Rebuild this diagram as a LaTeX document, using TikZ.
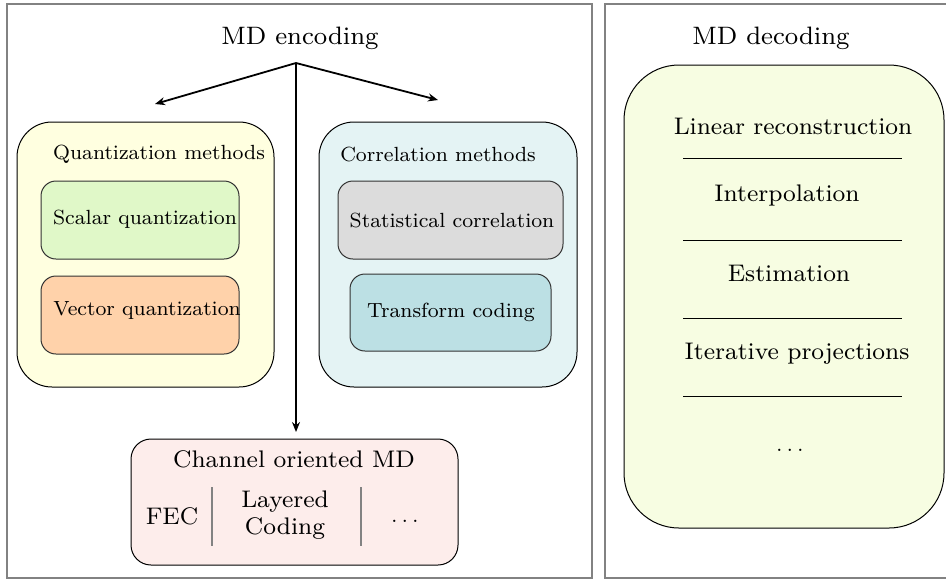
\documentclass[tikz,border=0pt]{standalone}
\usepackage{fontspec}
\setmainfont{lmroman8-regular.otf}
\usetikzlibrary{arrows.meta}
\definecolor{qyel}{RGB}{255,255,224}
\definecolor{qgreen}{RGB}{224,248,200}
\definecolor{qpeach}{RGB}{255,210,170}
\definecolor{ccyan}{RGB}{228,243,244}
\definecolor{cgrey}{RGB}{220,220,220}
\definecolor{cteal}{RGB}{188,224,228}
\definecolor{chpink}{RGB}{253,237,235}
\definecolor{decyel}{RGB}{247,253,226}
\definecolor{framegrey}{RGB}{130,130,130}
\begin{document}
\begin{tikzpicture}[x=0.5pt,y=-0.5pt,
  outerbox/.style={draw=black,line width=0.5pt,rounded corners=17.5pt,inner sep=0pt},
  innerbox/.style={draw=black!80,line width=0.5pt,rounded corners=7.5pt,inner sep=0pt,minimum height=39pt},
  title/.style={font=\fontsize{12.6}{15}\selectfont,inner sep=0pt},
  lab/.style={font=\fontsize{10.25}{12.5}\selectfont,inner sep=0pt},
  big/.style={font=\fontsize{12}{13.5}\selectfont,inner sep=0pt,align=center},
  arr/.style={-{Stealth[length=5pt,width=4pt]},line width=0.9pt}]
\useasboundingbox (0,0) rectangle (946,579);
% panels
\draw[framegrey,line width=0.6pt] (7,4) rectangle (592,578);
\draw[framegrey,line width=0.6pt] (950,4) -- (605,4) -- (605,578) -- (950,578);
% left panel
\node[title] (enc) at (300,38) {MD encoding};
\node[outerbox,fill=qyel,minimum width=128.5pt,minimum height=132.5pt] (qm) at (145.5,254.5) {};
\node[innerbox,fill=qgreen,minimum width=99pt] (sq) at (140,220) {};
\node[innerbox,fill=qpeach,minimum width=99pt] (vq) at (140,315) {};
\node[lab] (qmt) at (159,154) {Quantization methods};
\node[lab] (sqt) at (145,219) {Scalar quantization};
\node[lab] (vqt) at (147,310) {Vector quantization};
\node[outerbox,fill=ccyan,minimum width=129pt,minimum height=132.5pt] (cm) at (448,254.5) {};
\node[innerbox,fill=cgrey,minimum width=112.5pt] (sc) at (450.5,220) {};
\node[innerbox,fill=cteal,minimum width=100.5pt,minimum height=38.5pt] (tc) at (450.5,312.5) {};
\node[lab] (cmt) at (438,154) {Correlation methods};
\node[lab] (sct) at (452,220) {Statistical correlation};
\node[lab] (tct) at (451,312) {Transform coding};
\node[outerbox,fill=chpink,rounded corners=10pt,minimum width=163.5pt,minimum height=63pt] (ch) at (294.5,502) {};
\node[big] (cht) at (294,459) {Channel oriented MD};
\node[big] (fec) at (172,516) {FEC};
\node[big] (lay) at (285,515) {Layered\\Coding};
\node[big] (chd) at (405,521) {$\dots$};
\draw[framegrey,line width=0.7pt] (212,487) -- (212,546);
\draw[framegrey,line width=0.7pt] (361,487) -- (361,546);
% arrows
\coordinate (o) at (296,63);
\coordinate (tl) at (155,104);
\coordinate (tr) at (438,100);
\coordinate (td) at (296,432);
\draw[arr] (o) -- (tl);
\draw[arr] (o) -- (tr);
\draw[arr] (o) -- (td);
% right panel
\node[title] (dec) at (771,38) {MD decoding};
\node[outerbox,fill=decyel,rounded corners=27.5pt,minimum width=160pt,minimum height=231.5pt] (db) at (784,296.5) {};
\node[big] (d1) at (793,126) {Linear reconstruction};
\node[big] (d2) at (787,195) {Interpolation};
\node[big] (d3) at (789,273) {Estimation};
\node[big] (d4) at (797,354) {Iterative projections};
\node[big] (d5) at (790,450) {$\dots$};
\foreach \yy in {158,240,318,396}
  \draw[line width=0.5pt] (683,\yy) -- (902,\yy);
\end{tikzpicture}
\end{document}
